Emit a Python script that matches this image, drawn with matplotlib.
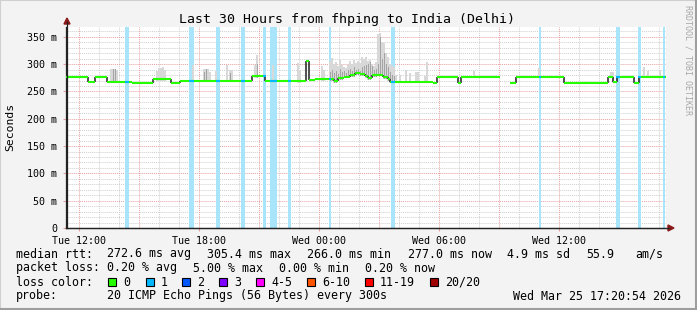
import numpy as np
import matplotlib
matplotlib.use("Agg")
import matplotlib.pyplot as plt
from matplotlib.patches import Rectangle, Polygon
from matplotlib.lines import Line2D

nan = np.nan
# ---------------- data (hours since Tue 00:00, values in ms) ----------------
t_start, t_end = 11.333, 41.333
med_start = [11.333, 12.45, 12.8, 13.4, 14.65, 15.7, 16.6, 17.05, 20.65, 21.3, 23.35, 23.5, 23.8,
             24.55, 24.75, 24.95, 25.25, 25.55, 25.8, 26.05, 26.3, 26.45, 26.65, 26.95, 27.2, 27.45,
             27.55, 29.7, 29.9, 30.95, 31.1, 33.05, 33.55, 33.85, 36.25, 38.45, 38.7, 38.9, 39.75, 40.0]
med_ms = [277, 268, 277, 268, 266, 273, 266, 270, 278, 269, 305, 271, 273,
          272, 269, 274, 277, 280, 284, 282, 278, 274, 280, 281, 276, 272,
          268, 265, 277, 266, 277, nan, 266, 277, 266, 277, 268, 277, 266, 277]

loss_start = [14.3, 17.47, 18.85, 20.08, 21.2, 21.55, 22.43, 24.47, 27.6, 34.97, 38.85, 39.93, 41.18]
loss_end = [14.47, 17.72, 19.05, 20.3, 21.33, 21.88, 22.6, 24.6, 27.77, 35.1, 39.02, 40.08, 41.3]

smoke_t = [13.6, 13.7, 13.8, 13.9, 15.9, 16.0, 16.1, 16.2, 16.3, 17.7, 18.25, 18.35, 18.45, 18.55,
           18.85, 19.4, 19.55, 19.65, 20.8, 20.9, 21.7, 22.95, 23.05, 24.15, 24.25,
           24.55, 24.65, 24.75, 24.85, 24.95, 25.05, 25.15, 25.25, 25.35, 25.45, 25.55, 25.65,
           25.75, 25.85, 25.95, 26.05, 26.15, 26.25, 26.35, 26.45, 26.55, 26.65, 26.75, 26.85,
           26.95, 27.05, 27.15, 27.25, 27.35, 27.45, 27.55, 27.65, 27.75, 27.85,
           28.05, 28.35, 28.55, 28.85, 28.95, 29.3, 29.4, 31.75, 35.0, 38.6, 38.7, 40.25, 40.45, 41.05]
smoke_hi = [291, 291, 291, 289, 288, 293, 293, 295, 289, 299, 291, 291, 291, 285,
            288, 299, 289, 289, 299, 317, 299, 302, 290, 297, 290,
            305, 311, 300, 304, 296, 308, 299, 295, 293, 299, 305, 300,
            308, 302, 306, 302, 313, 310, 313, 305, 308, 300, 296, 304,
            355, 357, 340, 339, 320, 313, 300, 299, 295, 280,
            280, 289, 284, 286, 286, 278, 304, 288, 293, 286, 286, 295, 288, 289]
smoke_dk = [nan, 291, 291, nan, nan, nan, nan, nan, nan, nan, 285, 291, nan, nan,
            nan, nan, 283, nan, nan, 300, nan, nan, nan, nan, nan,
            285, 290, 283, 288, 282, 292, 286, 288, 284, 290, 292, 288,
            294, 290, 292, 288, 295, 296, 298, 300, 304, 296, 290, 292,
            300, 350, 310, 320, 300, 295, 285, 280, 278, nan,
            nan, nan, nan, nan, nan, nan, nan, nan, nan, nan, nan, nan, nan, nan]

y_ticks = [0, 50, 100, 150, 200, 250, 300, 350]
x_ticks = [12, 18, 24, 30, 36]
x_labels = ["Tue 12:00", "Tue 18:00", "Wed 00:00", "Wed 06:00", "Wed 12:00"]

loss_names = ["0", "1", "2", "3", "4-5", "6-10", "11-19", "20/20"]
loss_cols = ["#26ff00", "#00b8ff", "#0059ff", "#7e00ff", "#ff00ff", "#ff5500", "#ff0000", "#a10000"]

# ---------------- figure ----------------
W, H = 697, 310
FONT = "DejaVu Sans Mono"
plt.rcParams['font.family'] = [FONT]
fig = plt.figure(figsize=(W / 100, H / 100), dpi=100, facecolor="#f3f3f3")


def P(x, y):
    return (x / W, 1 - y / H)


ax = fig.add_axes([66 / W, (H - 228) / H, 600 / W, 201 / H])
ax.set_facecolor("white")
ax.set_xlim(t_start, t_end)
ax.set_ylim(0, 368)

# grid
dot = (0, (1, 1))
for v in range(10, 368, 10):
    if v % 50:
        ax.axhline(v, color="#cfcfcf", lw=0.7, ls=dot, zorder=0.5)
for v in range(50, 368, 50):
    ax.axhline(v, color="#e8a0a0", lw=0.7, ls=dot, zorder=0.6)
for h in range(12, 42):
    if h % 3:
        ax.axvline(h, color="#cfcfcf", lw=0.7, ls=dot, zorder=0.5)
    else:
        ax.axvline(h, color="#e8a0a0", lw=0.7, ls=dot, zorder=0.6)

# loss background bands
for s, e in zip(loss_start, loss_end):
    ax.axvspan(s, e, color="#a8e4fa", lw=0, zorder=1)

starts = np.array(med_start)
vals = np.array(med_ms, dtype=float)
ends = np.append(starts[1:], t_end)


def med_at(t):
    i = np.searchsorted(starts, t, side="right") - 1
    return vals[max(i, 0)]


# smoke
for t, hi, dk in zip(smoke_t, smoke_hi, smoke_dk):
    m = med_at(t)
    base = (m if not np.isnan(m) else 270) - 3
    ax.bar(t, hi - base, bottom=base, width=0.1, color="#d8d8d8", lw=0, zorder=2)
    if not np.isnan(dk):
        ax.bar(t, dk - base, bottom=base, width=0.08, color="#a4a4a4", lw=0, zorder=2.1)

# median transitions
for i in range(1, len(starts)):
    if not (np.isnan(vals[i]) or np.isnan(vals[i - 1])):
        ax.vlines(starts[i], vals[i - 1], vals[i], color="#222222", lw=1.1, zorder=3)

ok = ~np.isnan(vals)
ax.hlines(vals[ok], starts[ok], ends[ok], color=loss_cols[0], lw=1.5, zorder=4)
for s, e in zip(loss_start, loss_end):
    ax.hlines(med_at((s + e) / 2), s, e, color=loss_cols[1], lw=1.5, zorder=4.5)

# axes styling
for sp in ["top", "right"]:
    ax.spines[sp].set_visible(False)
for sp in ["left", "bottom"]:
    ax.spines[sp].set_color("#222222")
    ax.spines[sp].set_linewidth(0.9)
ax.set_yticks(y_ticks)
ax.set_yticklabels(["0" if v == 0 else f"{v} m" for v in y_ticks])
ax.set_xticks(x_ticks)
ax.set_xticklabels(x_labels)
ax.tick_params(axis="both", labelsize=7.2, length=2.5, width=0.8, color="#e8a0a0",
               direction="out", pad=3)
ax.tick_params(axis="y", pad=4)

# axis extension arrows
fig.add_artist(Line2D([P(67, 228)[0], P(67, 22)[0]], [P(67, 228)[1], P(67, 22)[1]],
                      color="#222222", lw=0.9, transform=fig.transFigure))
fig.add_artist(Line2D([P(66, 228)[0], P(669, 228)[0]], [P(66, 228)[1], P(669, 228)[1]],
                      color="#222222", lw=0.9, transform=fig.transFigure))
fig.add_artist(Polygon([P(64, 24), P(70, 24), P(67, 18)], closed=True, color="#8b1a1a",
                       transform=fig.transFigure))
fig.add_artist(Polygon([P(668, 225), P(668, 231), P(674, 228)], closed=True, color="#8b1a1a",
                       transform=fig.transFigure))

# titles
fig.text(*P(347, 19), "Last 30 Hours from fhping to India (Delhi)", ha="center", va="center",
         fontsize=9.5)
fig.text(*P(10, 127), "Seconds", rotation=90, ha="center", va="center", fontsize=8.2)
fig.text(*P(688, 5), "RRDTOOL / TOBI OETIKER", rotation=270, ha="center", va="top",
         fontsize=6, color="#a8a8a8")

# legend
fs = 8.4
rows = [
    (254, [(16, "median rtt:"), (107, "272.6 ms avg"), (207, "305.4 ms max"), (307, "266.0 ms min"),
           (408, "277.0 ms now"), (507, "4.9 ms sd"), (586, "55.9"), (635, "am/s")]),
    (268, [(16, "packet loss:"), (107, "0.20 % avg"), (193, "5.00 % max"), (279, "0.00 % min"),
           (365, "0.20 % now")]),
    (282, [(16, "loss color:")]),
    (296, [(16, "probe:"), (107, "20 ICMP Echo Pings (56 Bytes) every 300s"),
           (513, "Wed Mar 25 17:20:54 2026")]),
]
for y, items in rows:
    for x, s in items:
        fig.text(*P(x, y), s, ha="left", va="center", fontsize=fs)

box_x = [108, 146, 182, 219, 256, 307, 365, 430]
for bx, name, col in zip(box_x, loss_names, loss_cols):
    fig.add_artist(Rectangle(P(bx, 286), 8 / W, 8 / H, facecolor=col, edgecolor="black",
                             lw=0.8, transform=fig.transFigure))
    fig.text(*P(bx + 15, 282), name, ha="left", va="center", fontsize=fs)

# frame
fig.add_artist(Rectangle((0, 0), 1, 1, fill=False, edgecolor="#cfcfcf", lw=1.5,
                         transform=fig.transFigure))
fig.add_artist(Line2D([P(0, 309)[0], P(697, 309)[0]], [P(0, 309)[1]] * 2, color="#9e9e9e",
                      lw=1.5, transform=fig.transFigure))
fig.add_artist(Line2D([P(696, 0)[0]] * 2, [P(696, 0)[1], P(696, 310)[1]], color="#9e9e9e",
                      lw=1.5, transform=fig.transFigure))

fig.savefig("out.png", dpi=100, facecolor=fig.get_facecolor())
